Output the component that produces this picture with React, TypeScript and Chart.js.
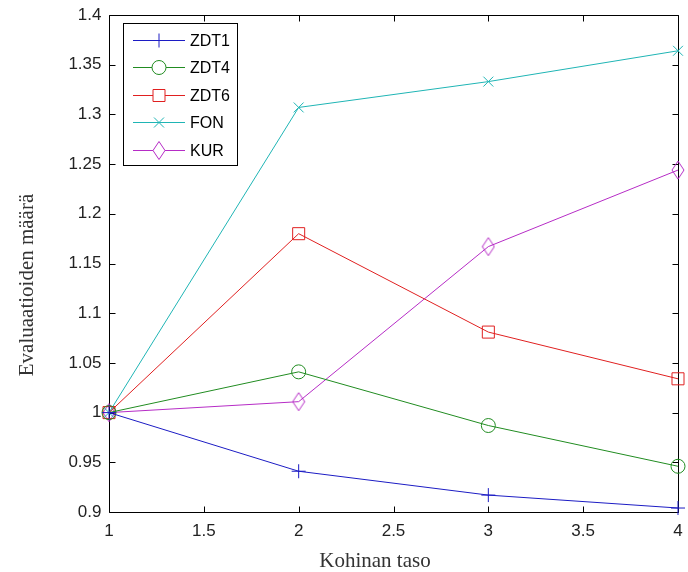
import React, { useEffect, useRef } from 'react';
import { Chart, registerables } from 'chart.js';

Chart.register(...registerables);

// ---- data ----
const xValues = [1, 2, 3, 4];
const zdt1 = [1, 0.941, 0.917, 0.904];
const zdt4 = [1, 1.041, 0.987, 0.946];
const zdt6 = [1, 1.18, 1.081, 1.034];
const fon = [1, 1.307, 1.333, 1.364];
const kur = [1, 1.011, 1.167, 1.244];
const seriesNames = ['ZDT1', 'ZDT4', 'ZDT6', 'FON', 'KUR'];
const xTickValues = [1, 1.5, 2, 2.5, 3, 3.5, 4];
const yTickValues = [0.9, 0.95, 1, 1.05, 1.1, 1.15, 1.2, 1.25, 1.3, 1.35, 1.4];
const xTitle = 'Kohinan taso';
const yTitle = 'Evaluaatioiden määrä';

// ---- styles ----
const colors = ['#1c1cc4', '#218c21', '#e02020', '#1fb5b5', '#b62cc6'];
const SANS = '"Liberation Sans", Arial, Helvetica, sans-serif';
const SERIF = '"Liberation Serif", "Times New Roman", serif';

function makeDiamond(color: string, w: number, h: number) {
  const c = document.createElement('canvas');
  c.width = w + 2;
  c.height = h + 2;
  const ctx = c.getContext('2d')!;
  ctx.strokeStyle = color;
  ctx.lineWidth = 1;
  const cx = c.width / 2;
  const cy = c.height / 2;
  ctx.beginPath();
  ctx.moveTo(cx, cy - h / 2);
  ctx.lineTo(cx + w / 2, cy);
  ctx.lineTo(cx, cy + h / 2);
  ctx.lineTo(cx - w / 2, cy);
  ctx.closePath();
  ctx.stroke();
  return c;
}

function drawMarker(ctx: CanvasRenderingContext2D, kind: number, x: number, y: number, color: string) {
  ctx.save();
  ctx.strokeStyle = color;
  ctx.lineWidth = 1;
  ctx.beginPath();
  if (kind === 0) {
    ctx.moveTo(x - 7, y); ctx.lineTo(x + 7, y);
    ctx.moveTo(x, y - 7); ctx.lineTo(x, y + 7);
    ctx.stroke();
  } else if (kind === 1) {
    ctx.fillStyle = '#fff';
    ctx.arc(x, y, 7, 0, Math.PI * 2);
    ctx.fill();
    ctx.stroke();
  } else if (kind === 2) {
    ctx.fillStyle = '#fff';
    ctx.rect(x - 6, y - 6, 12, 12);
    ctx.fill();
    ctx.stroke();
  } else if (kind === 3) {
    ctx.moveTo(x - 5, y - 5); ctx.lineTo(x + 5, y + 5);
    ctx.moveTo(x - 5, y + 5); ctx.lineTo(x + 5, y - 5);
    ctx.stroke();
  } else {
    ctx.fillStyle = '#fff';
    ctx.moveTo(x, y - 9); ctx.lineTo(x + 6, y); ctx.lineTo(x, y + 9); ctx.lineTo(x - 6, y);
    ctx.closePath();
    ctx.fill();
    ctx.stroke();
  }
  ctx.restore();
}

export default function App() {
  const ref = useRef<HTMLCanvasElement | null>(null);

  useEffect(() => {
    const canvas = ref.current;
    if (!canvas) return;
    const diamond = makeDiamond(colors[4], 12, 18);
    const seriesValues = [zdt1, zdt4, zdt6, fon, kur];
    const pointStyles: any[] = ['cross', 'circle', 'rect', 'crossRot', diamond];
    const radii = [7, 7, 8.5, 7, 9];

    const frame = {
      id: 'matlabFrame',
      beforeDatasetsDraw(chart: any) {
        const { ctx, chartArea } = chart;
        const xs = chart.scales.x;
        const ys = chart.scales.y;
        const L = Math.round(chartArea.left) + 0.5;
        const R = Math.round(chartArea.right) + 0.5;
        const T = Math.round(chartArea.top) + 0.5;
        const B = Math.round(chartArea.bottom) + 0.5;
        ctx.save();
        ctx.strokeStyle = '#000';
        ctx.lineWidth = 1;
        ctx.beginPath();
        ctx.rect(L, T, R - L, B - T);
        const tl = 6;
        xs.ticks.forEach((t: any) => {
          const px = Math.round(xs.getPixelForValue(t.value)) + 0.5;
          ctx.moveTo(px, B); ctx.lineTo(px, B - tl);
          ctx.moveTo(px, T); ctx.lineTo(px, T + tl);
        });
        ys.ticks.forEach((t: any) => {
          const py = Math.round(ys.getPixelForValue(t.value)) + 0.5;
          ctx.moveTo(L, py); ctx.lineTo(L + tl, py);
          ctx.moveTo(R, py); ctx.lineTo(R - tl, py);
        });
        ctx.stroke();

        // axis titles
        ctx.fillStyle = '#333';
        ctx.font = `21px ${SERIF}`;
        ctx.textAlign = 'center';
        ctx.textBaseline = 'alphabetic';
        ctx.fillText(xTitle, 375, 567);
        ctx.translate(33, 285);
        ctx.rotate(-Math.PI / 2);
        ctx.fillText(yTitle, 0, 0);
        ctx.restore();
      },
      afterDraw(chart: any) {
        const { ctx } = chart;
        ctx.save();
        // legend box
        const bx = 123.5, by = 23.5, bw = 114, bh = 142;
        ctx.fillStyle = '#fff';
        ctx.fillRect(bx, by, bw, bh);
        ctx.strokeStyle = '#000';
        ctx.lineWidth = 1;
        ctx.strokeRect(bx, by, bw, bh);
        chart.data.datasets.forEach((ds: any, i: number) => {
          const y = 39.5 + i * 27.5;
          const yy = Math.round(y) + 0.5;
          ctx.strokeStyle = ds.borderColor;
          ctx.beginPath();
          ctx.moveTo(133, yy);
          ctx.lineTo(185, yy);
          ctx.stroke();
          drawMarker(ctx, i, 159, yy, ds.borderColor);
          ctx.fillStyle = '#000';
          ctx.font = `16px ${SANS}`;
          ctx.textAlign = 'left';
          ctx.textBaseline = 'middle';
          ctx.fillText(ds.label, 190, yy + 1);
        });
        ctx.restore();
      },
    };

    const chart = new Chart(canvas, {
      type: 'line',
      data: {
        datasets: seriesNames.map((name, i) => ({
          label: name,
          data: xValues.map((x, j) => ({ x, y: seriesValues[i][j] })),
          borderColor: colors[i],
          backgroundColor: 'rgba(0,0,0,0)',
          borderWidth: 1,
          pointStyle: pointStyles[i],
          pointRadius: radii[i],
          pointHoverRadius: radii[i],
          pointBorderColor: colors[i],
          pointBackgroundColor: 'rgba(0,0,0,0)',
          pointBorderWidth: 1,
          tension: 0,
          fill: false,
          clip: false as any,
        })),
      },
      options: {
        responsive: false,
        animation: false,
        events: [],
        layout: { padding: { top: 15, right: 8, left: 0, bottom: 0 } },
        plugins: {
          legend: { display: false },
          tooltip: { enabled: false },
          title: { display: false },
        },
        scales: {
          x: {
            type: 'linear',
            min: 1,
            max: 4,
            grid: { display: false, drawTicks: false },
            border: { display: false },
            afterBuildTicks: (s: any) => {
              s.ticks = xTickValues.map((v) => ({ value: v }));
            },
            afterFit: (s: any) => {
              s.height = 60;
              s.paddingLeft = 0;
              s.paddingRight = 0;
            },
            ticks: {
              padding: 9,
              maxRotation: 0,
              autoSkip: false,
              color: '#222',
              font: { family: SANS, size: 17 },
              callback: (v: any) => String(Number(Number(v).toFixed(2))),
            },
          },
          y: {
            type: 'linear',
            min: 0.9,
            max: 1.4,
            grid: { display: false, drawTicks: false },
            border: { display: false },
            afterBuildTicks: (s: any) => {
              s.ticks = yTickValues.map((v) => ({ value: v }));
            },
            afterFit: (s: any) => {
              s.width = 109;
              s.paddingTop = 0;
              s.paddingBottom = 0;
            },
            ticks: {
              padding: 7.5,
              autoSkip: false,
              color: '#222',
              font: { family: SANS, size: 17 },
              callback: (v: any) => String(Number(Number(v).toFixed(2))),
            },
          },
        },
      },
      plugins: [frame],
    });
    return () => chart.destroy();
  }, []);

  return (
    <div style={{ position: 'fixed', left: 0, top: 0, width: 688, height: 572, background: '#fff' }}>
      <canvas ref={ref} width={688} height={572} style={{ width: 688, height: 572, display: 'block' }} />
    </div>
  );
}
